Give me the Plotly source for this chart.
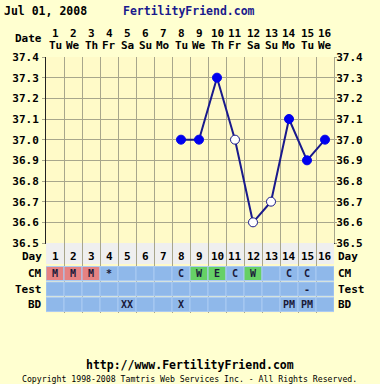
import plotly.graph_objects as go

# ---------------- data ----------------
days = list(range(1, 17))
weekdays = ["Tu", "We", "Th", "Fr", "Sa", "Su", "Mo", "Tu", "We", "Th", "Fr", "Sa", "Su", "Mo", "Tu", "We"]
temp_days = [8, 9, 10, 11, 12, 13, 14, 15, 16]
temps = [37.0, 37.0, 37.3, 37.0, 36.6, 36.7, 37.1, 36.9, 37.0]
temp_open = [False, False, False, True, True, True, False, False, False]
y_ticks = [36.5, 36.6, 36.7, 36.8, 36.9, 37.0, 37.1, 37.2, 37.3, 37.4]
cm_row = ["M", "M", "M", "*", "", "", "", "C", "W", "E", "C", "W", "", "C", "C", ""]
test_row = ["", "", "", "", "", "", "", "", "", "", "", "", "", "", "-", ""]
bd_row = ["", "", "", "", "XX", "", "", "X", "", "", "", "", "", "PM", "PM", ""]
row_names = ["Day", "CM", "Test", "BD"]

# ---------------- layout geometry ----------------
W, H = 380, 384
L, R, T, B = 46, 46, 57, 71
PH = H - T - B
PW = W - L - R


def pyp(p):
    return (H - B - p) / PH


def pxp(p):
    return (p - L) / PW


BG = "#FFFFD0"
PLOT_BG = "#FFFAC8"
GRID = "#A8A68C"
NAVY = "#1A1A8C"
BLUE_CELL = "#8FB8EA"
RED_CELL = "#E58282"
GREEN_CELL = "#66D066"
DAY_BG = "#EFEFEF"
FONT = "DejaVu Sans Mono"
LBL = dict(family=FONT, size=11, color="black", weight="bold")

fig = go.Figure()

# temperature line
fig.add_trace(go.Scatter(
    x=temp_days, y=temps, mode="lines+markers",
    line=dict(color=NAVY, width=2),
    marker=dict(size=9,
                color=["white" if o else "#0000EE" for o in temp_open],
                line=dict(color=[NAVY if o else "#0000EE" for o in temp_open], width=1)),
    xaxis="x", yaxis="y", showlegend=False, hoverinfo="skip",
))

# dummy trace for right-hand axis
fig.add_trace(go.Scatter(x=[None], y=[None], xaxis="x", yaxis="y3", showlegend=False))

# table geometry (y2 units = pixels below the 36.5 line)
rows_y = {"Day": (0, 21), "CM": (23.5, 37.5), "Test": (39, 53), "BD": (54.5, 68.5)}
text_y = {"Day": 13, "CM": 30.5, "Test": 46, "BD": 61.5}

shapes = []
annotations = []

shapes.append(dict(type="rect", xref="x2", yref="y2", x0=0.5, x1=16.5,
                   y0=rows_y["Day"][0], y1=rows_y["Day"][1],
                   fillcolor=DAY_BG, line=dict(width=0), layer="below"))

for i, d in enumerate(days):
    for name, vals in (("CM", cm_row), ("Test", test_row), ("BD", bd_row)):
        v = vals[i]
        color = BLUE_CELL
        if name == "CM" and v == "M":
            color = RED_CELL
        elif name == "CM" and v in ("W", "E"):
            color = GREEN_CELL
        y0, y1 = rows_y[name]
        shapes.append(dict(type="rect", xref="x2", yref="y2", x0=d - 0.5, x1=d + 0.5,
                           y0=y0, y1=y1, fillcolor=color,
                           line=dict(color="#ABCBF2", width=1), layer="above"))
        if v:
            annotations.append(dict(x=d, y=text_y[name], xref="x2", yref="y2", text=v,
                                    showarrow=False,
                                    font=dict(family=FONT, size=10, color="#1a1a3a", weight="bold")))
    annotations.append(dict(x=d, y=text_y["Day"], xref="x2", yref="y2", text=str(d),
                            showarrow=False, font=LBL))
    annotations.append(dict(x=d, y=pyp(33.5), xref="x", yref="paper", text=str(d), yanchor="middle",
                            showarrow=False, font=LBL))
    annotations.append(dict(x=d, y=pyp(45.5), xref="x", yref="paper", text=weekdays[i], yanchor="middle",
                            showarrow=False, font=LBL))

for name in row_names:
    annotations.append(dict(x=pxp(44), y=text_y[name], xref="paper", yref="y2", text=name, xanchor="right",
                            showarrow=False, font=LBL))
    annotations.append(dict(x=pxp(336), y=text_y[name], xref="paper", yref="y2", text=name, xanchor="left",
                            showarrow=False, font=LBL))

annotations.append(dict(x=pxp(2), y=pyp(10.5), xref="paper", yref="paper", text="Jul 01, 2008",
                        xanchor="left", yanchor="middle", showarrow=False,
                        font=dict(family=FONT, size=11.5, color="black", weight="bold")))
annotations.append(dict(x=pxp(121), y=pyp(10.5), xref="paper", yref="paper", text="FertilityFriend.com",
                        xanchor="left", yanchor="middle", showarrow=False,
                        font=dict(family=FONT, size=11.5, color=NAVY, weight="bold")))
annotations.append(dict(x=pxp(44), y=pyp(38.5), xref="paper", yref="paper", text="Date",
                        xanchor="right", yanchor="middle", showarrow=False, font=LBL))
annotations.append(dict(x=pxp(190), y=pyp(365), xref="paper", yref="paper", text="http://www.FertilityFriend.com",
                        xanchor="center", yanchor="middle", showarrow=False,
                        font=dict(family=FONT, size=11.5, color="black", weight="bold")))
annotations.append(dict(x=pxp(189), y=pyp(379), xref="paper", yref="paper",
                        text="Copyright 1998-2008 Tamtris Web Services Inc. - All Rights Reserved.",
                        xanchor="center", yanchor="middle", showarrow=False,
                        font=dict(family=FONT, size=8.2, color="black")))

tick_text = [f"{v:.1f}" for v in y_ticks]
grid_x = [d - 0.5 for d in days] + [16.5]
temp_dom = [pyp(243), 1]

fig.update_layout(
    width=W, height=H, margin=dict(l=L, r=R, t=T, b=B, pad=0),
    paper_bgcolor=BG, plot_bgcolor=PLOT_BG, showlegend=False,
    xaxis=dict(range=[0.5, 16.5], domain=[0, 1], anchor="y", tickvals=grid_x, showticklabels=False,
               showgrid=True, gridcolor=GRID, gridwidth=1, zeroline=False,
               showline=True, linecolor="#333333", linewidth=1, ticks=""),
    yaxis=dict(range=[36.5, 37.4], domain=temp_dom, anchor="x", tickvals=y_ticks, ticktext=tick_text,
               showgrid=True, gridcolor=GRID, gridwidth=1, zeroline=False,
               showline=True, linecolor="#222222", linewidth=1, ticks="outside", ticklen=3, tickcolor=GRID,
               ticklabelstandoff=1, tickfont=LBL),
    yaxis3=dict(range=[36.5, 37.4], domain=temp_dom, anchor="x", overlaying="y", side="right",
                tickvals=y_ticks, ticktext=tick_text, showgrid=False, zeroline=False,
                ticks="outside", ticklen=2, tickcolor=GRID, showline=True, linecolor=GRID,
                ticklabelstandoff=-3, tickfont=LBL),
    xaxis2=dict(range=[0.5, 16.5], domain=[0, 1], anchor="y2", matches="x", tickvals=grid_x,
                showticklabels=False, showgrid=True, gridcolor=GRID, zeroline=False, ticks=""),
    yaxis2=dict(range=[70, 0], domain=[0, pyp(243)], anchor="x2", showticklabels=False,
                showgrid=False, zeroline=False, ticks=""),
    shapes=shapes, annotations=annotations,
)

fig.write_html("out.html", config={"displayModeBar": False},
               post_script="document.body.style.margin='0';document.body.style.overflow='hidden';")
